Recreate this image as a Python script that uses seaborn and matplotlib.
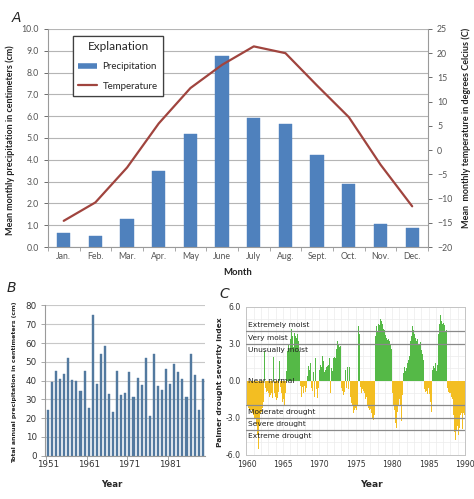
import numpy as np
import pandas as pd
import seaborn as sns
import matplotlib.pyplot as plt
from matplotlib.lines import Line2D
from matplotlib.ticker import FormatStrFormatter, MultipleLocator

# panel A - monthly normals
months = ['Jan.', 'Feb.', 'Mar.', 'Apr.', 'May', 'June', 'July', 'Aug.', 'Sept.', 'Oct.', 'Nov.', 'Dec.']
precip_cm = [0.65, 0.52, 1.3, 3.5, 5.2, 8.75, 5.9, 5.65, 4.2, 2.9, 1.05, 0.85]
temp_c = [-14.6, -10.8, -3.6, 5.5, 12.8, 17.6, 21.4, 20.0, 13.3, 6.8, -3.0, -11.6]

# panel B - annual totals
years_b = list(range(1951, 1990))
annual_precip_cm = [24.5, 39.1, 45.0, 40.9, 43.7, 51.9, 40.4, 39.6, 34.5, 45.0,
                    25.2, 75.0, 38.4, 54.4, 58.3, 32.9, 23.1, 45.0, 32.3, 33.4,
                    44.6, 31.3, 41.6, 37.7, 51.9, 21.0, 54.4, 37.0, 35.0, 46.2,
                    38.2, 48.7, 44.4, 40.7, 31.1, 54.4, 42.8, 24.2, 40.9]
year_ticks_b = ['1951', '1961', '1971', '1981']

# panel C - monthly PDSI 1960-1989, one row per year
pdsi_start_year = 1960
pdsi_monthly = [
    -1.9, -2.0, -2.1, -2.2, -2.3, -2.2, -2.4, -2.5, -2.4, -2.6, -2.7, -2.8,
    -2.9, -3.1, -3.0, -3.3, -3.6, -4.0, -4.4, -5.5, -4.8, -3.6, -3.0, -2.7,
    -2.5, -2.3, -2.2, -2.0, -1.7, 2.4, 1.8, -0.6, -0.9, -1.0, -0.8, -1.1,
    -1.0, -1.3, -1.6, -1.2, -0.8, -1.0, -1.4, -0.9, 1.9, -0.6, -1.0, -1.3,
    -1.2, -1.6, -1.8, -1.4, -0.9, -0.6, 1.6, 1.2, -0.5, -1.0, -1.4, -1.7,
    -1.5, -1.9, -2.0, -1.6, -1.0, 0.8, 1.8, 2.4, 2.8, 3.0, 2.6, 3.2,
    3.4, 3.8, 4.2, 3.6, 3.0, 2.7, 3.3, 3.9, 3.6, 4.0, 3.5, 3.1,
    3.8, 3.2, 2.9, 2.4, -0.4, -0.9, -1.3, -0.7, -0.5, -1.0, -0.6, -0.4,
    -0.5, -0.9, -0.6, -1.1, 0.4, -0.7, 1.2, 0.9, 1.1, 1.4, 1.0, -0.6,
    -0.8, -1.1, 0.7, -0.9, -1.3, 1.8, 1.2, -0.7, -1.2, -1.4, -0.6, 0.5,
    0.9, 1.3, 0.8, 1.1, 2.3, 2.0, 1.6, 1.2, 0.7, 1.4, 0.9, 1.1,
    1.0, 1.2, 0.8, 1.3, 1.8, 1.1, -1.0, 0.6, 1.0, 0.8, 1.7, 1.8,
    1.7, 1.9, 1.8, 2.2, 2.6, 3.2, 3.0, 2.9, 3.2, 2.7, 2.8, 2.5,
    -0.6, -1.0, -0.8, -1.2, -0.5, -0.9, 1.0, 0.9, -0.6, 0.7, 1.1, -0.5,
    -0.7, 1.1, -0.9, -1.3, -1.6, -1.8, -2.0, -2.3, -2.6, -2.4, -2.6, -2.2,
    -2.5, -2.4, -2.0, 4.0, 4.4, 4.3, 3.8, -0.5, -0.8, -1.0, -0.9, -0.7,
    -0.8, -0.6, -1.0, -1.2, -1.5, -1.3, -1.8, -2.0, -1.7, -2.2, -2.4, -2.1,
    -2.3, -2.6, -2.4, -3.0, -3.5, -3.2, -2.8, -2.5, 3.6, 4.1, 4.4, 4.0,
    4.3, 4.6, 4.9, 4.5, 5.0, 5.2, 4.8, 4.4, 4.6, 4.2, 3.9, 4.1,
    3.9, 3.7, 3.5, 3.6, 3.3, 3.4, 3.0, 3.2, 2.8, 2.9, 2.6, -0.6,
    -1.0, -1.6, -2.0, -2.4, -2.6, -3.4, -4.7, -3.8, -2.5, -2.2, -2.0, -1.8,
    -1.5, -2.0, -2.6, -3.3, -3.0, -1.2, 0.6, 0.9, 1.1, 0.8, 1.3, 1.0,
    1.1, 1.4, 1.7, 1.5, 2.0, 2.8, 3.2, 3.6, 4.0, 4.4, 4.5, 4.1,
    3.8, 4.0, 3.5, 3.7, 3.2, 3.4, 3.6, 3.0, 3.3, 2.9, 3.1, 2.7,
    2.5, 2.2, 1.8, 1.7, -0.4, -0.7, -0.9, -1.2, -0.8, -1.0, -1.1, -0.6,
    -0.8, -1.1, -1.3, -1.7, -2.5, -1.2, 0.9, 1.3, 1.2, 1.0, 1.3, 1.4,
    1.0, 0.8, 1.3, 2.6, 3.8, 4.6, 5.0, 5.3, 5.1, 4.8, 4.6, 4.4,
    4.7, 4.3, 4.5, 4.0, 4.4, 4.1, 3.8, -0.6, -0.9, -1.2, -1.0, -1.4,
    -1.0, -1.3, -1.6, -1.5, -2.0, -2.8, -4.2, -5.2, -4.8, -4.5, -4.0, -3.7,
    -3.6, -4.4, -3.8, -3.0, -2.8, -3.4, -2.6, -3.9, -3.2, -2.6, -3.5, -2.8,
]
class_bounds = [4.0, 3.0, -2.0, -3.0, -4.0]
class_names = ['Extremely moist', 'Very moist', 'Unusually moist', 'Near normal',
               'Moderate drought', 'Severe drought', 'Extreme drought']
class_levels = [4.5, 3.5, 2.5, 0.0, -2.5, -3.5, -4.5]

sns.set_theme(style='white')
plt.rcParams['font.family'] = ['DejaVu Sans']

fig = plt.figure(figsize=(4.74, 4.99), dpi=100)

# ---------------- A ----------------
fa = ['Lato', 'DejaVu Sans']
blue_a = '#4F81BD'
ax_a = fig.add_axes([0.101, 0.505, 0.802, 0.437])
sns.barplot(x=months, y=precip_cm, color=blue_a, saturation=1, width=0.42,
            edgecolor=blue_a, linewidth=0.3, ax=ax_a)
ax_a.set_xlim(-0.5, 11.5)
ax_a.set_ylim(0, 10)
ax_a.yaxis.set_major_locator(MultipleLocator(1))
ax_a.yaxis.set_major_formatter(FormatStrFormatter('%.1f'))
ax_a.set_axisbelow(True)
ax_a.grid(axis='y', color='#b5b5b5', lw=0.8)
ax_t = ax_a.twinx()
sns.lineplot(x=np.arange(len(months)), y=temp_c, color='#a0443e', lw=1.6, ax=ax_t)
ax_t.set_ylim(-20, 25)
ax_t.yaxis.set_major_locator(MultipleLocator(5))
for ax in (ax_a, ax_t):
    for s in ax.spines.values():
        s.set_visible(False)
    ax.tick_params(labelsize=6.3, colors='#555555', length=3, width=0.6)
    for lab in ax.get_xticklabels() + ax.get_yticklabels():
        lab.set_family(fa)
ax_a.spines['left'].set_visible(True)
ax_a.spines['bottom'].set_visible(True)
ax_t.spines['right'].set_visible(True)
for s in (ax_a.spines['left'], ax_a.spines['bottom'], ax_t.spines['right']):
    s.set_color('#9a9a9a')
    s.set_linewidth(0.8)
ax_a.tick_params(axis='x', length=0)
ax_a.set_xticks(np.arange(-0.5, 12, 1), minor=True)
ax_a.tick_params(axis='x', which='minor', length=3, width=0.6, color='#9a9a9a', bottom=True)
ax_a.tick_params(axis='y', left=True)
ax_t.tick_params(axis='y', right=True)
ax_a.set_xlabel('Month', fontsize=6.8, fontweight='bold', family=fa, color='#222222')
ax_a.xaxis.set_label_coords(0.50, -0.096)
ax_a.set_ylabel('Mean monthly precipitation in centimeters (cm)', fontsize=6.5,
                fontweight='bold', family=fa, color='#222222')
ax_a.yaxis.set_label_coords(-0.087, 0.49)
ax_t.set_ylabel('Mean  monthly temperature in degrees Celcius (C)', fontsize=6.5,
                fontweight='bold', family=fa, color='#222222')
ax_t.yaxis.set_label_coords(1.089, 0.546)

handles = [Line2D([], [], color=blue_a, lw=4, solid_capstyle='butt'),
           Line2D([], [], color='#a0443e', lw=1.6)]
leg = ax_a.legend(handles, ['Precipitation', 'Temperature'], title='Explanation',
                  loc='upper left', bbox_to_anchor=(0.066, 0.968), borderaxespad=0,
                  fancybox=False, edgecolor='#404040', framealpha=1,
                  prop={'family': fa, 'size': 7}, title_fontproperties={'family': fa, 'size': 8.5},
                  handlelength=1.9, labelspacing=1.05, borderpad=0.55, handletextpad=0.6)
leg.get_frame().set_linewidth(0.9)
ax_a.add_artist(leg)
fig.text(0.025, 0.978, 'A', fontsize=10, style='italic', va='top', ha='left')

# ---------------- B ----------------
blue_b = '#52799f'
ax_b = fig.add_axes([0.095, 0.0868, 0.338, 0.301])
sns.barplot(x=years_b, y=annual_precip_cm, color=blue_b, saturation=1, width=0.5,
            edgecolor=blue_b, linewidth=0.3, ax=ax_b)
ax_b.set_xlim(-0.7, 38.6)
ax_b.set_ylim(0, 80)
ax_b.yaxis.set_major_locator(MultipleLocator(10))
ax_b.set_xticks([years_b.index(int(y)) for y in year_ticks_b])
ax_b.set_xticklabels(year_ticks_b)
ax_b.set_xticks([years_b.index(int(y)) - 0.5 for y in year_ticks_b], minor=True)
ax_b.set_axisbelow(True)
ax_b.grid(axis='y', color='#c8c8c8', lw=0.8)
for s in ax_b.spines.values():
    s.set_visible(False)
for side in ('left', 'bottom'):
    ax_b.spines[side].set_visible(True)
    ax_b.spines[side].set_color('#9a9a9a')
    ax_b.spines[side].set_linewidth(0.8)
ax_b.tick_params(labelsize=6.3, colors='#333333', length=0, pad=3)
ax_b.tick_params(axis='x', which='minor', length=3, width=0.6, color='#9a9a9a', bottom=True)
ax_b.tick_params(axis='y', left=True, length=3, width=0.6, color='#9a9a9a')
ax_b.set_xlabel('Year', fontsize=6.2, fontweight='bold')
ax_b.xaxis.set_label_coords(0.42, -0.16)
ax_b.set_ylabel('Total annual precipitation in centimeters (cm)', fontsize=4.5, fontweight='bold')
ax_b.yaxis.set_label_coords(-0.175, 0.49)
fig.text(0.014, 0.437, 'B', fontsize=10, style='italic', va='top', ha='left')

# ---------------- C ----------------
ax_c = fig.add_axes([0.520, 0.0888, 0.461, 0.2966])
vals = np.array(pdsi_monthly)
df_c = pd.DataFrame({
    'time': pdsi_start_year + np.arange(len(vals)) / 12 + 1 / 24,
    'pdsi': vals,
    'sign': np.where(vals >= 0, 'wet', 'dry'),
})
sns.barplot(data=df_c, x='time', y='pdsi', hue='sign', native_scale=True, dodge=False,
            palette={'wet': '#55b947', 'dry': '#f3be22'}, saturation=1, width=1,
            errorbar=None, legend=False, linewidth=0, ax=ax_c)
ax_c.set_xlim(1960, 1990)
ax_c.set_ylim(-6, 6)
ax_c.set_xticks(range(1960, 1991, 5))
ax_c.set_yticks([-6, -3, 0, 3, 6])
ax_c.yaxis.set_major_formatter(FormatStrFormatter('%.1f'))
ax_c.set_xticks(range(1960, 1991), minor=True)
ax_c.set_yticks(range(-6, 7), minor=True)
ax_c.set_axisbelow(True)
ax_c.grid(which='minor', color='#ececec', lw=0.5)
ax_c.grid(which='major', color='#ececec', lw=0.5)
for b in class_bounds:
    ax_c.axhline(b, color='#8a8a8a', lw=0.9, zorder=3)
for name, lvl in zip(class_names, class_levels):
    ax_c.text(1960.15, lvl, name, fontsize=5.4, va='center', ha='left', color='#222222', zorder=4)
for s in ax_c.spines.values():
    s.set_color('#c4c4c4')
    s.set_linewidth(0.7)
ax_c.tick_params(labelsize=5.6, colors='#333333', length=0, pad=4)
ax_c.tick_params(which='minor', length=0)
ax_c.set_xlabel('Year', fontsize=6.6, fontweight='bold')
ax_c.xaxis.set_label_coords(0.573, -0.171)
ax_c.set_ylabel('Palmer drought severity index', fontsize=5.4, fontweight='bold')
ax_c.yaxis.set_label_coords(-0.109, 0.493)
fig.text(0.462, 0.425, 'C', fontsize=10, style='italic', va='top', ha='left')

fig.savefig('out.png', dpi=100)
